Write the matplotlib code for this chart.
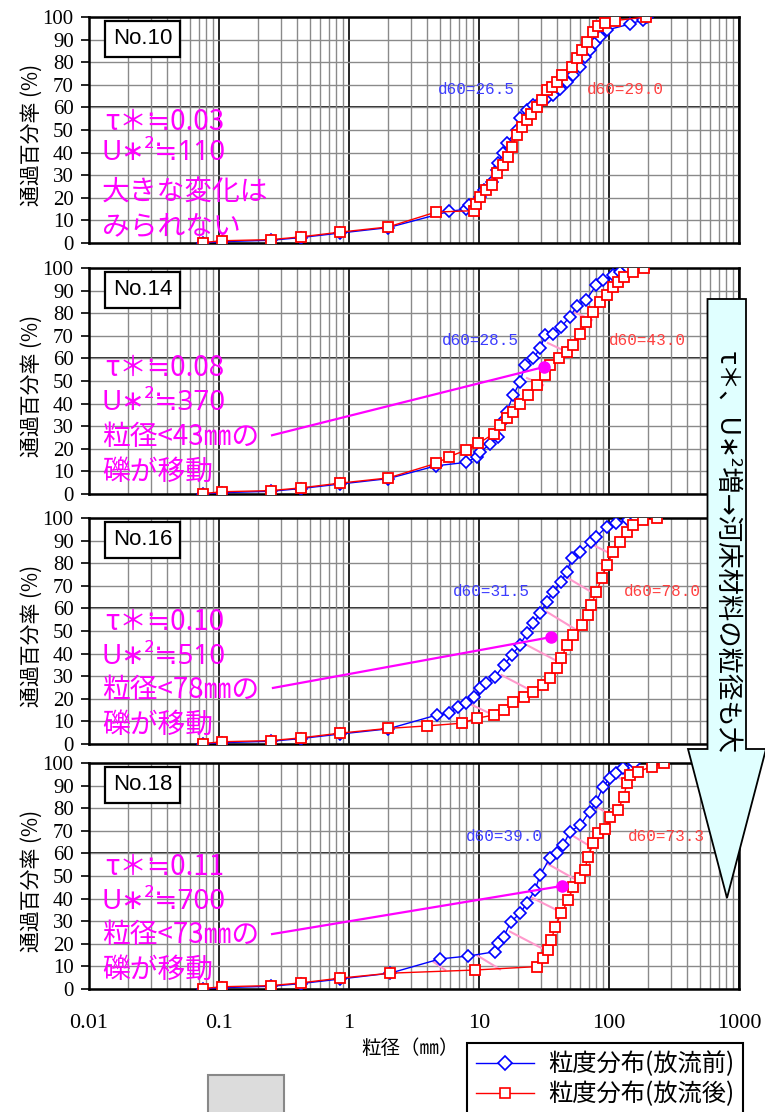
import matplotlib
matplotlib.use('Agg')
import matplotlib.pyplot as plt
from matplotlib.patches import Polygon, Rectangle
from matplotlib.lines import Line2D
from matplotlib.ticker import FixedLocator, FixedFormatter, NullFormatter

plt.rcParams['font.family'] = ['Noto Sans CJK JP', 'DejaVu Sans']
MIXED = ['Noto Sans', 'DejaVu Sans', 'Noto Sans CJK JP']

# ---------------- data ----------------
panel_names = ['No.10', 'No.14', 'No.16', 'No.18']
tau_labels = ['τ＊≒0.03', 'τ＊≒0.08', 'τ＊≒0.10', 'τ＊≒0.11']
u2_labels = ['U∗²≒110', 'U∗²≒370', 'U∗²≒510', 'U∗²≒700']
note1_labels = ['大きな変化は', '粒径<43㎜の', '粒径<78㎜の', '粒径<73㎜の']
note2_labels = ['みられない', '礫が移動', '礫が移動', '礫が移動']
d60_before = ['d60=26.5', 'd60=28.5', 'd60=31.5', 'd60=39.0']
d60_after = ['d60=29.0', 'd60=43.0', 'd60=78.0', 'd60=73.3']

no10_before_d = [0.075, 0.106, 0.25, 0.425, 0.85, 2.0, 5.9, 8.0, 8.4, 10.2, 11.0, 12.5, 13.7, 14.1, 15.2, 16.3,
                 19.6, 20.7, 23.3, 26.2, 29.5, 33.2, 37.3, 42, 47.3, 53.2, 59.8, 65, 71, 78, 85, 96, 145, 182, 195]
no10_before_p = [0.0, 0.6, 1.2, 2.4, 4.4, 6.8, 14.0, 15.0, 16.9, 20.5, 23.4, 27.1, 32.3, 35.2, 39.7, 44.1,
                 50.0, 55.1, 58.8, 61.0, 62.5, 64.0, 65.5, 68.0, 71.4, 74.3, 78.0, 82.4, 85.4, 88.3, 91.3, 94.2, 96.9, 98.7, 100]
no10_after_d = [0.075, 0.106, 0.25, 0.425, 0.85, 2.0, 4.67, 9.2, 9.5, 10.2, 11.4, 12.5, 13.7, 15.2, 16.8, 17.9, 19.6,
                21.3, 23.3, 25.3, 27.8, 30.4, 33.2, 36.4, 40, 43.5, 52, 56.9, 62.5, 67.3, 75.7, 83, 93, 111, 192]
no10_after_p = [0.2, 1.0, 1.5, 2.7, 4.8, 7.1, 13.7, 14.3, 17.2, 20.5, 23.4, 25.6, 30.8, 34.5, 38.2, 42.6, 47.8,
                51.5, 54.4, 57.3, 60.3, 63.3, 67.7, 69.2, 71.4, 74.3, 78.0, 81.7, 85.4, 89.1, 93.5, 96.0, 97.2, 98.4, 100]

no14_before_d = [0.075, 0.106, 0.25, 0.425, 0.85, 2.0, 4.7, 8.0, 9.6, 10.2, 12.2, 14.0, 15.0, 16.3, 18.4, 20.7,
                 22.6, 26.2, 29.5, 32.3, 37.3, 43, 50, 56.5, 67, 80, 90, 108, 121, 141, 159]
no14_before_p = [0.0, 0.6, 1.2, 2.4, 4.4, 6.8, 12.5, 14.0, 16.5, 18.7, 22.0, 25.4, 32.0, 36.4, 43.8, 49.7,
                 57.0, 60.0, 64.4, 70.4, 71.0, 74.0, 78.5, 83.0, 86.0, 92.5, 94.7, 97.0, 98.4, 99.8, 100]
no14_after_d = [0.075, 0.106, 0.25, 0.425, 0.85, 2.0, 4.7, 5.9, 8.0, 9.9, 13.0, 14.5, 16.3, 18.4, 20.7, 24, 27.8,
                32.3, 35, 41, 47.3, 53, 60, 67, 75.7, 85, 96, 108, 117, 130, 154, 185]
no14_after_p = [0.2, 1.0, 1.5, 2.7, 4.8, 7.1, 13.6, 16.5, 19.5, 22.4, 26.7, 30.5, 33.5, 36.4, 40.0, 43.8, 48.2,
                52.6, 57.0, 60.0, 63.0, 66.0, 71.0, 76.3, 80.7, 85.0, 88.0, 91.7, 94.0, 96.2, 98.4, 100]

no16_before_d = [0.075, 0.106, 0.25, 0.425, 0.85, 2.0, 4.72, 5.9, 6.9, 8.0, 9.2, 10.2, 11.4, 13.3, 15.6, 17.9,
                 20.7, 23.3, 26.2, 29.5, 33.2, 37.3, 43, 47.3, 52, 59.8, 73, 80, 96, 114, 140, 160]
no16_before_p = [0.0, 0.6, 1.2, 2.4, 4.4, 6.7, 12.8, 13.6, 16.5, 18.0, 21.0, 24.6, 26.8, 29.8, 35.0, 39.4,
                 43.8, 49.0, 53.4, 57.8, 63.0, 67.4, 71.8, 76.3, 82.2, 85.1, 89.5, 91.7, 96.2, 97.6, 99.0, 100]
no16_after_d = [0.075, 0.106, 0.25, 0.425, 0.85, 2.0, 3.96, 7.36, 9.6, 13.0, 15.6, 18.4, 22, 26.2, 31, 35, 39.5,
                43, 47.3, 53.2, 61.5, 69, 73, 80, 88, 96, 108, 121.6, 137, 154, 184, 235]
no16_after_p = [0.2, 1.0, 1.5, 2.7, 4.8, 6.9, 8.0, 9.2, 11.4, 12.8, 15.0, 18.8, 21.0, 23.2, 26.1, 29.1, 33.5,
                37.9, 43.8, 48.2, 52.6, 57.0, 61.5, 67.4, 73.3, 79.2, 85.1, 89.5, 94.0, 96.9, 99.0, 100]

no18_before_d = [0.075, 0.106, 0.25, 0.425, 0.85, 2.07, 5.0, 8.3, 13.3, 13.9, 15.5, 17.6, 20.7, 23.3, 27, 29.5,
                 35, 39.5, 44.5, 50, 60, 71, 80, 90, 101, 114, 128, 157]
no18_before_p = [0.0, 0.6, 1.2, 2.4, 4.4, 7.0, 13.3, 14.6, 16.5, 20.2, 23.2, 29.8, 33.5, 37.9, 43.8, 50.4,
                 57.8, 60.0, 63.7, 69.6, 72.5, 78.5, 82.9, 89.5, 93.2, 95.4, 97.6, 100]
no18_after_d = [0.075, 0.106, 0.25, 0.425, 0.85, 2.07, 9.3, 27.8, 31, 34, 36, 38.5, 43, 48.5, 53.2, 60, 65, 69,
                75.7, 82.5, 93, 101, 117, 130, 137, 146, 168, 213, 265]
no18_after_p = [0.2, 1.0, 1.5, 2.7, 4.8, 7.0, 8.4, 9.9, 13.6, 17.3, 21.7, 27.6, 33.5, 39.4, 45.3, 49.0, 52.6, 58.6,
                64.4, 68.9, 71.0, 76.3, 79.2, 85.1, 91.0, 94.7, 96.2, 98.4, 100]

# pink connector segments: (d_before, p_before, d_after, p_after)
pink_segments = [
    [],
    [(33.9, 66.8, 47.5, 62.8), (53.8, 80.5, 74, 77.0), (23.4, 51.3, 31.1, 48.2)],
    [(75.7, 88.0, 108, 83.6), (48.6, 73.3, 80.4, 65.9), (33.2, 58.5, 56.4, 50.4),
     (23.3, 43.8, 40.7, 36.4), (14.9, 30.5, 24.7, 23.9), (8.8, 17.3, 13.7, 12.1)],
    [(114.6, 93.9, 140.6, 91.7), (80.4, 80.7, 101.8, 77.0), (51.6, 68.1, 72.3, 63.0),
     (33.2, 55.6, 53.1, 49.0), (24.7, 40.8, 44.5, 33.5), (17.3, 25.4, 32.2, 17.3),
     (9.6, 15.0, 14.5, 8.7), (4.45, 12.1, 5.5, 8.4)],
]
# magenta pointer (start d, start p, dot d, dot p)
pointers = [None, (0.256, 26.0, 31.6, 56.2), (0.26, 24.8, 35.8, 47.3), (0.256, 24.3, 43.5, 45.6)]

series = [
    (no10_before_d, no10_before_p, no10_after_d, no10_after_p),
    (no14_before_d, no14_before_p, no14_after_d, no14_after_p),
    (no16_before_d, no16_before_p, no16_after_d, no16_after_p),
    (no18_before_d, no18_before_p, no18_after_d, no18_after_p),
]
d60_pos_before = [(9.6, 67.7), (10.2, 68.1), (12.4, 67.4), (15.6, 67.4)]
d60_pos_after = [(134, 67.7), (198, 68.1), (258, 67.4), (277, 67.4)]
text_y = [(0.537, 0.398, 0.221, 0.071), (0.556, 0.401, 0.254, 0.099),
          (0.541, 0.386, 0.239, 0.084), (0.541, 0.386, 0.239, 0.084)]

x_ticks = [0.01, 0.1, 1, 10, 100, 1000]
x_ticklabels = ['0.01', '0.1', '1', '10', '100', '1000']
y_ticks = list(range(0, 101, 10))

# ---------------- figure ----------------
W, H = 765, 1112
fig = plt.figure(figsize=(W / 100, H / 100), dpi=100)
bottoms_px = [243, 494, 744, 989]
MAG = '#ff00ff'
serif = 'Liberation Serif'

for i in range(4):
    b = bottoms_px[i]
    ax = fig.add_axes([89 / W, (H - b) / H, 650 / W, 226 / H])
    ax.set_xscale('log')
    ax.set_xlim(0.01, 1000)
    ax.set_ylim(0, 100)
    ax.set_axisbelow(True)
    ax.xaxis.set_major_locator(FixedLocator(x_ticks))
    ax.xaxis.set_minor_locator(FixedLocator([m * 10.0 ** e for e in range(-2, 3) for m in range(2, 10)]))
    ax.xaxis.set_minor_formatter(NullFormatter())
    ax.yaxis.set_major_locator(FixedLocator(y_ticks))
    ax.grid(which='minor', axis='x', color='#8a8a8a', lw=1.0)
    ax.grid(which='major', axis='x', color='black', lw=1.2)
    ax.grid(which='major', axis='y', color='#8a8a8a', lw=1.0)
    ax.axhline(60, color='black', lw=1.2, zorder=0.5)
    for s in ax.spines.values():
        s.set_linewidth(1.8)
    ax.tick_params(axis='y', direction='out', length=6, width=1.2, pad=5)
    ax.tick_params(axis='x', which='both', length=0)
    for t in ax.get_yticklabels():
        t.set_fontfamily(serif)
        t.set_fontsize(15)
    if i == 3:
        ax.xaxis.set_major_formatter(FixedFormatter(x_ticklabels))
        ax.tick_params(axis='x', pad=18)
        for t in ax.get_xticklabels():
            t.set_fontfamily(serif)
            t.set_fontsize(16)
    else:
        ax.xaxis.set_major_formatter(NullFormatter())

    # pink connectors
    for (d1, p1, d2, p2) in pink_segments[i]:
        ax.plot([d1, d2], [p1, p2], color='#ff99cc', lw=1.5, zorder=2)

    bd, bp, ad, ap = series[i]
    ax.plot(bd, bp, color='blue', lw=1.0, marker='D', ms=6.2, mfc='white', mec='blue', mew=1.2, zorder=3)
    ax.plot(ad, ap, color='red', lw=1.0, marker='s', ms=6.5, mfc='white', mec='red', mew=1.3, zorder=4)

    ax.text(d60_pos_before[i][0], d60_pos_before[i][1], d60_before[i], color='#3c3cff',
            fontsize=11.5, family='Liberation Mono', ha='center', va='center', zorder=5)
    ax.text(d60_pos_after[i][0], d60_pos_after[i][1], d60_after[i], color='#ff4040',
            fontsize=11.5, family='Liberation Mono', ha='center', va='center', zorder=5)

    # panel name box
    ax.text(0.083, 0.903, panel_names[i], transform=ax.transAxes, fontsize=16, family='Liberation Sans',
            ha='center', va='center', zorder=6,
            bbox=dict(boxstyle='square,pad=0.35', fc='white', ec='black', lw=1.6))

    ty = text_y[i]
    ax.text(0.025, ty[0], tau_labels[i], transform=ax.transAxes, color=MAG, fontsize=20, ha='left', va='center', zorder=6)
    ax.text(0.02, ty[1], u2_labels[i], transform=ax.transAxes, color=MAG, fontsize=20, ha='left', va='center',
            zorder=6, family=MIXED)
    ax.text(0.02, ty[2], note1_labels[i], transform=ax.transAxes, color=MAG, fontsize=20, ha='left', va='center', zorder=6)
    ax.text(0.02, ty[3], note2_labels[i], transform=ax.transAxes, color=MAG, fontsize=20, ha='left', va='center', zorder=6)

    if pointers[i] is not None:
        sd, sp, ed, ep = pointers[i]
        ax.plot([sd, ed], [sp, ep], color=MAG, lw=1.6, zorder=6)
        ax.plot([ed], [ep], marker='o', ms=8, color=MAG, zorder=6)

    fig.text(32 / W, 1 - (b - 108) / H, '通過百分率 (%)', rotation=90, fontsize=15,
             ha='center', va='center')

fig.text(410 / W, 1 - 1048 / H, '粒径（㎜）', fontsize=14, ha='center', va='center')

# big arrow
arrow_px = [(707.5, 299), (746, 299), (746, 749), (766, 749), (727, 898), (688, 749), (707.5, 749)]
arrow = Polygon([(x / W, 1 - y / H) for x, y in arrow_px], closed=True, transform=fig.transFigure,
                facecolor='#e0ffff', edgecolor='black', lw=1.3, zorder=10)
fig.add_artist(arrow)
fig.text(727 / W, 1 - 552 / H, 'τ＊、U∗²増→河床材料の粒径も大', rotation=-90, fontsize=19,
         ha='center', va='center', zorder=11, family=MIXED)

# grey box
fig.add_artist(Rectangle((208 / W, -0.01), 76 / W, (1112 - 1075) / H + 0.01, transform=fig.transFigure,
                         facecolor='#dcdcdc', edgecolor='#888888', lw=1.5, zorder=10))

# legend
h1 = Line2D([], [], color='blue', lw=1.0, marker='D', ms=7, mfc='white', mec='blue', mew=1.2)
h2 = Line2D([], [], color='red', lw=1.0, marker='s', ms=7, mfc='white', mec='red', mew=1.2)
leg = fig.legend([h1, h2], ['粒度分布(放流前)', '粒度分布(放流後)'], loc='upper left',
                 bbox_to_anchor=(467 / W, 1 - 1043 / H), frameon=True, fancybox=False,
                 edgecolor='black', framealpha=1, prop={'size': 17.5}, handlelength=2.4,
                 borderpad=0.35, labelspacing=0.15, handletextpad=0.6, borderaxespad=0)
leg.get_frame().set_linewidth(1.5)

fig.savefig('out.png', dpi=100)
